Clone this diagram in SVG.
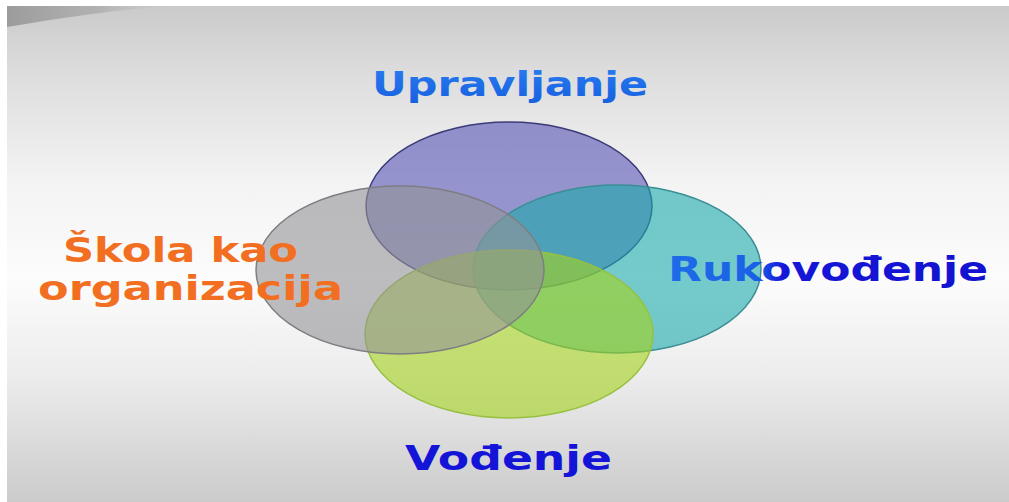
<svg xmlns="http://www.w3.org/2000/svg" width="1009" height="502" viewBox="0 0 1009 502">
<defs>
<linearGradient id="bg" x1="0" y1="0" x2="0" y2="1">
<stop offset="0" stop-color="#cacaca"/>
<stop offset="0.12" stop-color="#dbdbdb"/>
<stop offset="0.35" stop-color="#f3f3f3"/>
<stop offset="0.55" stop-color="#fcfcfc"/>
<stop offset="0.75" stop-color="#ececec"/>
<stop offset="1" stop-color="#cbcbcb"/>
</linearGradient>
<linearGradient id="sw" x1="0" y1="0" x2="1" y2="0">
<stop offset="0" stop-color="#9c9c9c"/>
<stop offset="0.55" stop-color="#b2b2b2"/>
<stop offset="1" stop-color="#c9c9c9" stop-opacity="0"/>
</linearGradient>
<linearGradient id="ruk" x1="0" y1="0" x2="1" y2="0">
<stop offset="0" stop-color="#1e6ce8"/>
<stop offset="0.28" stop-color="#1a60e6"/>
<stop offset="0.36" stop-color="#1616d8"/>
<stop offset="1" stop-color="#1212d0"/>
</linearGradient>
<linearGradient id="upr" x1="0" y1="0" x2="0" y2="1">
<stop offset="0" stop-color="#2a7cf0"/>
<stop offset="1" stop-color="#1660e0"/>
</linearGradient>
</defs>
<style>
.lbl{font-family:"DejaVu Sans","Liberation Sans",sans-serif;font-weight:bold;font-size:33px}
.c{stroke-width:1.5;fill-opacity:0.6}
</style>
<rect x="0" y="0" width="1009" height="502" fill="#ffffff"/>
<rect x="7" y="6" width="1002" height="496" fill="url(#bg)"/>
<path d="M7,6 L175,6 C120,9 60,18 7,27 Z" fill="url(#sw)"/>
<g id="upravljanje">
<ellipse class="c" cx="509" cy="206" rx="143" ry="84" fill="#5753b4" stroke="#3b3b78"/>
<text class="lbl" x="372" y="96" textLength="276" lengthAdjust="spacingAndGlyphs" fill="url(#upr)">Upravljanje</text>
</g>
<g id="rukovodjenje">
<ellipse class="c" cx="617" cy="269" rx="144" ry="84" fill="#1baaaa" stroke="#3a8e94"/>
<text class="lbl" x="668" y="281" textLength="320" lengthAdjust="spacingAndGlyphs" fill="url(#ruk)">Rukovođenje</text>
</g>
<g id="vodjenje">
<ellipse class="c" cx="509" cy="334" rx="144" ry="84" fill="#a3d21b" stroke="#98c040"/>
<text class="lbl" x="405" y="470" textLength="207" lengthAdjust="spacingAndGlyphs" fill="#1414d8">Vođenje</text>
</g>
<g id="skola">
<ellipse class="c" cx="400" cy="270" rx="144" ry="84" fill="#939396" stroke="#7e7e82"/>
<text class="lbl" fill="#f26f22"><tspan x="63" y="262" textLength="235" lengthAdjust="spacingAndGlyphs">Škola kao</tspan><tspan x="38" y="300" textLength="305" lengthAdjust="spacingAndGlyphs">organizacija</tspan></text>
</g>
<g id="connectors"/>
</svg>
